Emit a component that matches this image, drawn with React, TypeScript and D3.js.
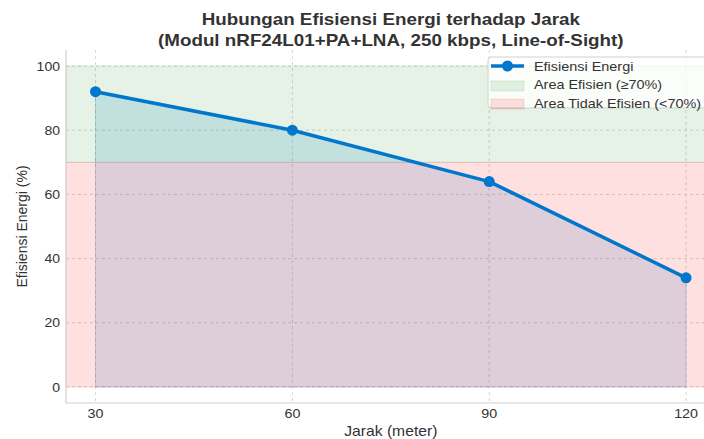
import React from "react";
import * as d3 from "d3";

const distances = [30, 60, 90, 120];
const efficiency = [92, 80, 64, 34];
const xTicks = [30, 60, 90, 120];
const yTicks = [0, 20, 40, 60, 80, 100];
const threshold = 70;
const titleLines = [
  "Hubungan Efisiensi Energi terhadap Jarak",
  "(Modul nRF24L01+PA+LNA, 250 kbps, Line-of-Sight)",
];
const legendLabels = ["Efisiensi Energi", "Area Efisien (\u226570%)", "Area Tidak Efisien (<70%)"];

const W = 704;
const H = 439;
const FONT = "'Liberation Sans', Arial, sans-serif";
const BLUE = "#0077cc";

function SText(props: {
  x: number;
  y: number;
  sx: number;
  size: number;
  anchor?: string;
  weight?: string;
  dy?: string;
  children: React.ReactNode;
}) {
  return (
    <text
      transform={`translate(${props.x},${props.y}) scale(${props.sx},1)`}
      textAnchor={props.anchor || "start"}
      fontSize={props.size}
      fontWeight={props.weight || "normal"}
      dy={props.dy}
      fill="#333"
    >
      {props.children}
    </text>
  );
}

export default function App() {
  const left = 66, right = 715.6, top = 50, bottom = 403;
  const x = d3.scaleLinear().domain([25.5, 124.5]).range([left, right]);
  const y = d3.scaleLinear().domain([-5, 105]).range([bottom, top]);
  const pts = distances.map((d, i) => [d, efficiency[i]] as [number, number]);
  const line = d3.line<[number, number]>().x((d) => x(d[0])).y((d) => y(d[1]));
  const area = d3
    .area<[number, number]>()
    .x((d) => x(d[0]))
    .y0(() => y(0))
    .y1((d) => y(d[1]));
  const cx = (left + right) / 2;
  const cy = (top + bottom) / 2;

  return (
    <svg
      width={W}
      height={H}
      style={{ position: "absolute", left: 0, top: 0, background: "#fff" }}
      fontFamily={FONT}
    >
      <defs>
        <clipPath id="plot">
          <rect x={left} y={top} width={right - left} height={bottom - top} />
        </clipPath>
      </defs>
      <g clipPath="url(#plot)">
        {yTicks.map((t) => (
          <line key={"gy" + t} x1={left} x2={right} y1={y(t)} y2={y(t)} stroke="#cccccc" strokeWidth={0.8} strokeDasharray="3,3" />
        ))}
        {xTicks.map((t) => (
          <line key={"gx" + t} x1={x(t)} x2={x(t)} y1={top} y2={bottom} stroke="#cccccc" strokeWidth={0.8} strokeDasharray="3,3" />
        ))}
        <path d={area(pts) || ""} fill={BLUE} fillOpacity={0.15} stroke={BLUE} strokeOpacity={0.2} strokeWidth={1} />
        <rect x={left} y={y(100)} width={right - left} height={y(threshold) - y(100)} fill="green" fillOpacity={0.1} stroke="green" strokeOpacity={0.12} strokeWidth={1} />
        <rect x={left} y={y(threshold)} width={right - left} height={y(0) - y(threshold)} fill="red" fillOpacity={0.12} stroke="red" strokeOpacity={0.12} strokeWidth={1} />
        <path d={line(pts) || ""} fill="none" stroke={BLUE} strokeWidth={3.5} strokeLinejoin="round" strokeLinecap="round" />
        {pts.map((p, i) => (
          <circle key={i} cx={x(p[0])} cy={y(p[1])} r={5.5} fill={BLUE} />
        ))}
      </g>
      <line x1={left} x2={left} y1={top} y2={bottom} stroke="#cfcfcf" strokeWidth={1.2} />
      <line x1={left} x2={right} y1={bottom} y2={bottom} stroke="#cfcfcf" strokeWidth={1.2} />
      {yTicks.map((t) => (
        <SText key={"ty" + t} x={60} y={y(t)} dy="0.35em" anchor="end" size={13} sx={1.08}>
          {t}
        </SText>
      ))}
      {xTicks.map((t) => (
        <SText key={"tx" + t} x={x(t)} y={418} anchor="middle" size={13} sx={1.1}>
          {t}
        </SText>
      ))}
      <SText x={cx} y={436} anchor="middle" size={14} sx={1.12}>
        Jarak (meter)
      </SText>
      <text transform={`translate(27,${cy}) rotate(-90)`} textAnchor="middle" fontSize={14} fill="#333">
        Efisiensi Energi (%)
      </text>
      {titleLines.map((t, i) => (
        <SText key={i} x={cx} y={25 + i * 21} anchor="middle" size={16.5} weight="bold" sx={1.14}>
          {t}
        </SText>
      ))}
      <g>
        <rect x={488} y={57} width={224} height={51} rx={3} fill="#fff" fillOpacity={0.8} stroke="#d0d0d0" strokeWidth={1} />
        <line x1={491} x2={524} y1={66} y2={66} stroke={BLUE} strokeWidth={3.5} />
        <circle cx={507.5} cy={66} r={5.5} fill={BLUE} />
        <rect x={491} y={81} width={33} height={10} fill="green" fillOpacity={0.1} stroke="green" strokeOpacity={0.12} />
        <rect x={491} y={99} width={33} height={10} fill="red" fillOpacity={0.12} stroke="red" strokeOpacity={0.12} />
        {legendLabels.map((l, i) => (
          <SText key={i} x={534} y={66 + i * 18.5} dy="0.35em" size={13} sx={1.11}>
            {l}
          </SText>
        ))}
      </g>
    </svg>
  );
}
